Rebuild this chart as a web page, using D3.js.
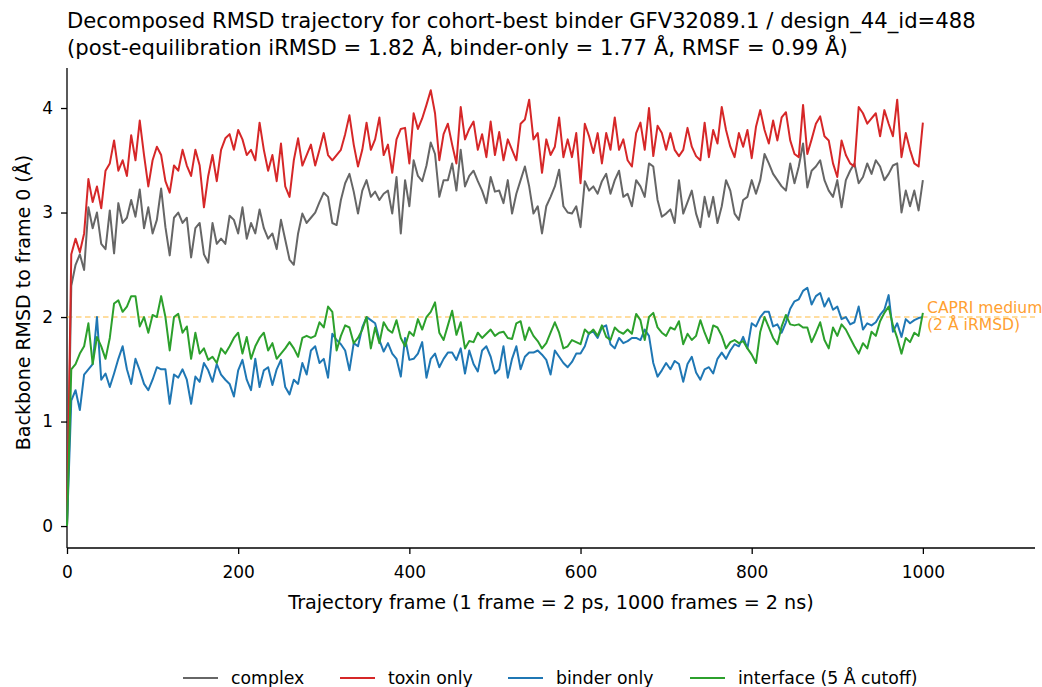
<!DOCTYPE html>
<html><head><meta charset="utf-8">
<script src="https://cdn.jsdelivr.net/npm/d3@7"></script>
<style>body{margin:0;background:#fff}svg{font-family:"DejaVu Sans",sans-serif}</style>
</head><body><svg id="c" width="1042" height="687"></svg>
<script>
const titleLines = ["Decomposed RMSD trajectory for cohort-best binder GFV32089.1 / design_44_id=488",
  "(post-equilibration iRMSD = 1.82 Å, binder-only = 1.77 Å, RMSF = 0.99 Å)"];
const xLabel = "Trajectory frame (1 frame = 2 ps, 1000 frames = 2 ns)";
const yLabel = "Backbone RMSD to frame 0 (Å)";
const xTicks = [0, 200, 400, 600, 800, 1000];
const yTicks = [0, 1, 2, 3, 4];
const frameStep = 5;
const seriesNames = ["complex", "toxin only", "binder only", "interface (5 Å cutoff)"];
const seriesColors = ["#666666", "#d62728", "#1f77b4", "#2ca02c"];
const capriLevel = 2;
const capriText = ["CAPRI medium", "(2 Å iRMSD)"];

const complexVals = [0,2.3,2.5,2.6,2.45,3.05,2.85,3.0,2.7,2.65,3.02,2.61,3.09,2.9,2.95,3.12,2.96,3.22,2.85,3.05,
2.8,2.93,3.23,2.86,2.59,2.95,3.0,2.9,2.95,2.57,2.85,2.9,2.6,2.52,2.9,2.7,2.75,2.7,2.97,2.93,
2.8,3.05,2.75,2.9,2.8,3.03,2.85,2.75,2.8,2.65,2.93,2.74,2.55,2.5,2.8,2.99,2.9,2.95,3.0,3.1,
3.19,3.15,2.9,2.88,3.12,3.28,3.37,3.2,2.99,3.21,3.31,3.15,3.2,3.12,3.18,3.21,2.99,3.34,2.8,3.31,
3.06,3.5,3.35,3.3,3.45,3.67,3.56,3.15,3.31,3.31,3.47,3.21,3.6,3.25,3.35,3.4,3.3,3.21,3.09,3.34,
3.2,3.21,3.09,3.31,2.99,3.18,3.31,3.44,3.25,2.99,3.06,2.8,3.06,3.15,3.25,3.41,3.06,3.0,2.99,3.06,
2.86,3.3,3.21,3.25,3.18,3.3,3.37,3.18,3.31,3.4,3.15,3.18,3.06,3.31,3.25,3.15,3.47,3.44,3.12,2.96,
2.99,3.03,2.9,3.31,2.99,3.1,3.21,2.99,2.86,3.15,2.96,3.15,2.9,3.06,3.31,3.21,2.99,2.93,3.12,3.15,
3.31,3.18,3.31,3.56,3.47,3.37,3.31,3.25,3.21,3.47,3.28,3.44,3.66,3.24,3.4,3.44,3.5,3.31,3.21,3.15,
3.31,3.05,3.31,3.4,3.47,3.28,3.34,3.47,3.37,3.5,3.44,3.31,3.37,3.45,3.47,3.0,3.21,3.06,3.21,3.02,3.31];

const toxinVals = [0,2.6,2.75,2.62,2.8,3.32,3.1,3.25,3.04,3.4,3.47,3.69,3.4,3.5,3.35,3.74,3.5,3.88,3.55,3.25,
3.5,3.63,3.55,3.3,3.19,3.45,3.4,3.6,3.45,3.35,3.6,3.45,3.05,3.35,3.55,3.3,3.6,3.71,3.75,3.6,
3.79,3.7,3.55,3.6,3.5,3.86,3.6,3.4,3.55,3.3,3.66,3.25,3.15,3.5,3.71,3.45,3.55,3.65,3.45,3.6,
3.76,3.55,3.5,3.55,3.6,3.75,3.93,3.65,3.44,3.6,3.86,3.6,3.7,3.91,3.55,3.65,3.38,3.7,3.8,3.81,
3.47,3.95,3.8,3.9,4.03,4.17,3.95,3.5,3.75,3.85,3.65,3.47,4.01,3.7,3.8,3.87,3.6,3.75,3.53,3.87,
3.55,3.77,3.5,3.7,3.6,3.5,3.85,3.89,4.08,3.7,3.76,3.38,3.7,3.55,3.63,3.91,3.53,3.7,3.53,3.76,
3.28,3.85,3.73,3.57,3.76,3.47,3.76,3.6,3.91,3.6,3.7,3.5,3.44,3.76,3.86,3.6,4.0,3.54,3.83,3.76,
3.6,3.76,3.6,3.54,3.6,3.81,3.63,3.54,3.5,3.86,3.53,3.79,3.66,4.01,3.79,3.63,3.53,3.76,3.63,3.79,
3.52,3.82,3.98,3.79,3.66,3.88,3.69,3.91,3.96,3.69,3.56,3.53,4.03,3.56,3.7,3.85,3.92,3.73,3.69,3.47,
3.34,3.69,3.55,3.47,3.44,4.01,3.95,3.85,3.9,3.95,3.73,3.98,3.85,3.73,4.08,3.53,3.76,3.6,3.47,3.44,3.86];

const binderVals = [0,1.2,1.3,1.11,1.45,1.5,1.55,2.0,1.4,1.46,1.33,1.46,1.6,1.72,1.5,1.36,1.6,1.49,1.36,1.3,
1.4,1.52,1.5,1.5,1.17,1.45,1.42,1.5,1.4,1.17,1.43,1.38,1.56,1.49,1.38,1.55,1.45,1.4,1.36,1.24,
1.49,1.59,1.4,1.3,1.6,1.33,1.49,1.52,1.35,1.5,1.59,1.33,1.26,1.4,1.36,1.56,1.45,1.68,1.72,1.56,
1.6,1.42,1.84,1.78,1.74,1.68,1.49,1.75,1.72,1.9,2.0,1.97,1.94,1.78,1.67,1.75,1.65,1.6,1.43,1.8,
1.59,1.6,1.65,1.76,1.42,1.6,1.65,1.52,1.6,1.66,1.66,1.59,1.7,1.46,1.68,1.55,1.48,1.68,1.72,1.62,
1.46,1.5,1.72,1.42,1.6,1.72,1.5,1.62,1.66,1.66,1.68,1.64,1.59,1.45,1.68,1.62,1.56,1.52,1.57,1.65,
1.65,1.72,1.85,1.86,1.8,1.9,1.92,1.74,1.7,1.8,1.75,1.77,1.8,1.8,1.78,1.88,1.82,1.56,1.43,1.49,
1.56,1.5,1.58,1.55,1.38,1.55,1.62,1.47,1.4,1.5,1.52,1.46,1.6,1.66,1.6,1.68,1.74,1.72,1.81,1.7,
1.94,1.91,2.0,2.05,2.05,1.91,1.93,1.85,1.95,2.08,2.15,2.17,2.25,2.28,2.12,2.2,2.23,2.1,2.18,2.07,
2.1,1.98,2.0,1.93,1.95,2.1,1.88,1.94,1.92,1.95,2.02,2.07,2.21,1.86,1.94,1.81,1.98,1.94,1.97,1.99,2.0];

const interfaceVals = [0,1.5,1.55,1.65,1.72,1.94,1.55,1.81,1.72,1.6,1.8,2.13,2.16,2.05,2.1,2.2,2.2,1.91,2.0,1.85,
2.02,2.0,2.2,2.0,1.68,2.0,2.03,1.85,1.91,1.6,1.85,1.65,1.7,1.59,1.62,1.56,1.7,1.65,1.72,1.8,
1.85,1.65,1.81,1.6,1.72,1.8,1.85,1.68,1.75,1.6,1.65,1.7,1.76,1.7,1.62,1.8,1.82,1.8,1.82,1.95,
1.9,2.1,2.05,1.68,1.82,1.92,1.9,1.75,1.8,1.88,2.0,1.7,1.9,1.75,1.95,1.88,1.85,1.97,1.8,1.72,
1.86,1.82,1.98,1.88,2.0,2.05,2.14,1.85,1.78,1.92,2.06,1.83,1.95,1.7,1.77,1.76,1.85,1.8,1.84,1.88,
1.82,1.85,1.86,1.8,1.79,1.94,1.96,1.78,1.9,1.82,1.77,1.7,1.75,1.85,1.95,1.85,1.7,1.72,1.78,1.76,
1.74,1.88,1.84,1.88,1.82,1.92,1.81,1.78,1.9,1.86,1.84,1.88,1.84,2.03,1.97,1.78,2.0,2.04,1.9,1.85,
1.82,1.9,1.88,1.96,1.74,1.84,1.78,1.82,1.97,1.85,1.75,1.92,1.9,1.82,1.7,1.76,1.78,1.75,1.77,1.7,
1.64,1.56,1.86,2.0,1.9,1.8,1.74,1.91,2.02,1.93,1.92,1.93,1.9,1.9,1.76,1.85,1.95,1.78,1.7,1.9,
1.82,1.93,1.88,1.8,1.72,1.65,1.75,1.7,1.86,1.82,1.96,2.04,2.1,1.92,1.8,1.65,1.8,1.76,1.85,1.82,2.04];

const allSeries = [complexVals, toxinVals, binderVals, interfaceVals];

const svg = d3.select("#c");
const L = 67, R = 1035, T = 68, B = 548;
const x = d3.scaleLinear().domain([0, 1131]).range([L, R]);
const y = d3.scaleLinear().domain([-0.21, 4.383]).range([B, T]);

// title
svg.selectAll("text.title").data(titleLines).join("text")
  .attr("class","title").attr("x", L).attr("y", (d,i)=>28+i*27)
  .attr("font-size", 21.15).attr("fill","#000").text(d=>d);

// axes
const xAxis = svg.append("g").attr("transform",`translate(0,${B})`)
  .call(d3.axisBottom(x).tickValues(xTicks).tickSize(6).tickFormat(d3.format("d")));
const yAxis = svg.append("g").attr("transform",`translate(${L},0)`)
  .call(d3.axisLeft(y).tickValues(yTicks).tickSize(6).tickPadding(8).tickFormat(d3.format("d")));
[xAxis,yAxis].forEach(g=>{
  g.selectAll("text").attr("font-size",17).attr("fill","#000").attr("font-family","DejaVu Sans");
  g.selectAll("line").attr("stroke","#000").attr("stroke-width",1.3);
  g.select(".domain").attr("stroke","#000").attr("stroke-width",1.3);
});
xAxis.selectAll("text").attr("y",30).attr("dy",0);
xAxis.select(".domain").attr("d",`M${L},0H${R}`);
yAxis.select(".domain").attr("d",`M0,${B}V${T}`);

svg.append("text").attr("x",551).attr("y",609).attr("text-anchor","middle")
  .attr("font-size",19.2).text(xLabel);
svg.append("text").attr("transform",`translate(30,302.5) rotate(-90)`).attr("text-anchor","middle")
  .attr("font-size",19).text(yLabel);

// capri line
svg.append("line").attr("x1",L).attr("x2",R).attr("y1",y(capriLevel)).attr("y2",y(capriLevel))
  .attr("stroke","#ffa500").attr("stroke-opacity",0.5).attr("stroke-width",1.4).attr("stroke-dasharray","5.5,3.5");

const frames = d3.range(0, complexVals.length).map(i=>i*frameStep);
const line = d3.line().x((d,i)=>x(frames[i])).y(d=>y(d));
const g = svg.append("g");
allSeries.forEach((vals,k)=>{
  g.append("path").datum(vals).attr("d",line).attr("fill","none")
   .attr("stroke",seriesColors[k]).attr("stroke-width",2).attr("stroke-linejoin","round");
});

svg.selectAll("text.capri").data(capriText).join("text").attr("class","capri")
  .attr("x", 927).attr("y",(d,i)=>313+i*17)
  .attr("font-size",15.6).attr("fill","#ffa030").text(d=>d);

// legend
const legX = [183, 340, 508, 690];
const lg = svg.append("g");
seriesNames.forEach((n,k)=>{
  lg.append("line").attr("x1",legX[k]).attr("x2",legX[k]+35).attr("y1",678).attr("y2",678)
    .attr("stroke",seriesColors[k]).attr("stroke-width",2.2);
  lg.append("text").attr("x",legX[k]+48).attr("y",684).attr("font-size",17.3).text(n);
});
</script></body></html>
